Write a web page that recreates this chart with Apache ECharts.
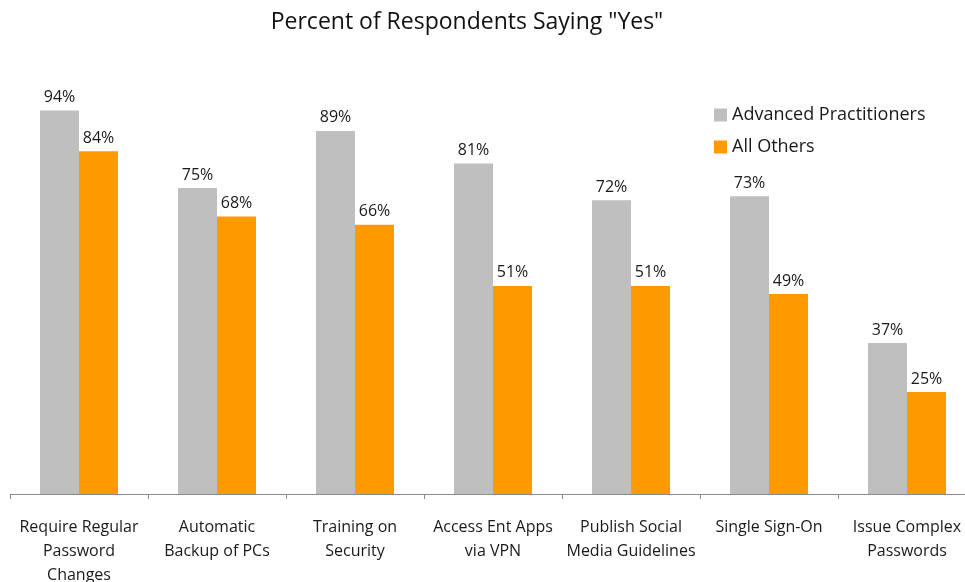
<!DOCTYPE html>
<html>
<head>
<meta charset="utf-8">
<script src="https://cdn.jsdelivr.net/npm/echarts@6/dist/echarts.min.js"></script>
<style>
  html, body { margin: 0; padding: 0; background: #fff; }
  #chart { width: 965px; height: 582px; }
</style>
</head>
<body>
<div id="chart"></div>
<script>
// Survey practices (category labels, line breaks included)
const categories = [
  'Require Regular\nPassword\nChanges',
  'Automatic\nBackup of PCs',
  'Training on\nSecurity',
  'Access Ent Apps\nvia VPN',
  'Publish Social\nMedia Guidelines',
  'Single Sign-On',
  'Issue Complex\nPasswords'
];
const seriesNames = ['Advanced Practitioners', 'All Others'];
const advanced = [94, 75, 89, 81, 72, 73, 37];
const allOthers = [84, 68, 66, 51, 51, 49, 25];

const FONT = '"Open Sans", Lato, sans-serif';
const chart = echarts.init(document.getElementById('chart'));

const labelStyle = {
  show: true,
  position: 'top',
  distance: 5,
  formatter: p => p.value + '%',
  color: '#1a1a1a',
  fontFamily: FONT,
  fontSize: 16
};

chart.setOption({
  animation: false,
  title: {
    text: 'Percent of Respondents Saying "Yes"',
    left: 462,
    top: 6,
    textAlign: 'center',
    textStyle: { fontFamily: FONT, fontSize: 23, fontWeight: 'normal', color: '#111' }
  },
  legend: {
    orient: 'vertical',
    left: 709,
    top: 101,
    itemWidth: 13,
    itemHeight: 13,
    itemGap: 14,
    icon: 'rect',
    textStyle: { fontFamily: FONT, fontSize: 18, color: '#1a1a1a', padding: [0, 0, 0, 0] },
    data: seriesNames
  },
  grid: { left: 10, right: -11, top: 86, bottom: 88, outerBoundsMode: 'none', containLabel: false },
  xAxis: {
    type: 'category',
    data: categories,
    axisLine: { lineStyle: { color: '#8c8c8c', width: 1 } },
    axisTick: { show: true, length: 5, lineStyle: { color: '#8c8c8c' } },
    axisLabel: {
      interval: 0,
      margin: 21,
      color: '#1a1a1a',
      fontFamily: FONT,
      fontSize: 16,
      lineHeight: 24
    }
  },
  yAxis: {
    type: 'value',
    min: 0,
    max: 100,
    show: false,
    splitLine: { show: false }
  },
  series: [
    {
      name: seriesNames[0],
      type: 'bar',
      data: advanced,
      barWidth: 39,
      barGap: '0%',
      itemStyle: { color: '#bfbfbf' },
      label: labelStyle
    },
    {
      name: seriesNames[1],
      type: 'bar',
      data: allOthers,
      barWidth: 39,
      barGap: '0%',
      itemStyle: { color: '#ff9900' },
      label: labelStyle
    }
  ]
});
</script>
</body>
</html>
